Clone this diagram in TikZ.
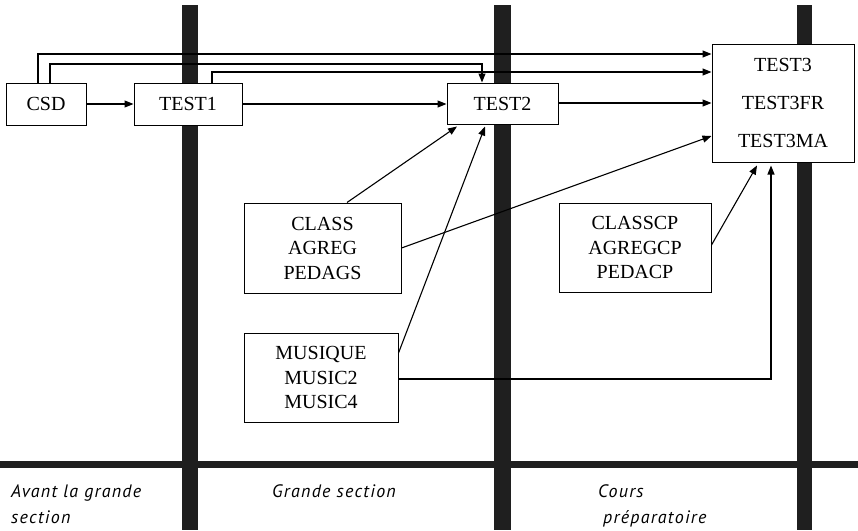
\documentclass[tikz,border=0pt]{standalone}
\usepackage{fontspec}
\setmainfont{Liberation Serif}
\newfontfamily\labfont[LetterSpace=7]{PT Sans}
\usetikzlibrary{arrows.meta}
\begin{document}
\begin{tikzpicture}[x=1pt,y=-1pt,
  box/.style={draw=black, line width=1pt, fill=white, inner sep=0pt, align=center,
    font=\fontsize{20}{24.5}\selectfont},
  arr/.style={line width=1.1pt, -{Triangle[length=9pt,width=7pt]}},
  ln/.style={line width=1.1pt},
  bar/.style={fill=black!88},
  lab/.style={anchor=west, inner sep=0pt, align=left,
    font=\labfont\itshape\fontsize{18}{26}\selectfont}]
\useasboundingbox (0,0) rectangle (858,530);
% bars
\fill[bar] (182,5) rectangle (198,530);
\fill[bar] (494,5) rectangle (511,530);
\fill[bar] (797,5) rectangle (812,530);
\fill[bar] (0,460.5) rectangle (858,467.5);
% nodes
\node[box, minimum width=80pt, minimum height=42pt] (csd) at (46,104) {CSD};
\node[box, minimum width=108pt, minimum height=42pt] (test1) at (188,104) {TEST1};
\node[box, minimum width=111pt, minimum height=41pt] (test2) at (502.5,103.5) {TEST2};
\node[box, minimum width=142pt, minimum height=118pt, font=\fontsize{20}{38}\selectfont] (test3) at (783,103) {TEST3\\TEST3FR\\TEST3MA};
\node[box, minimum width=157pt, minimum height=90pt] (class) at (322.5,248) {CLASS\\AGREG\\PEDAGS};
\node[box, minimum width=152pt, minimum height=89pt] (classcp) at (635,247.5) {CLASSCP\\AGREGCP\\PEDACP};
\node[box, minimum width=154pt, minimum height=89pt] (musique) at (321,377.5) {MUSIQUE\\MUSIC2\\MUSIC4};
\coordinate (j1) at (482,64);
% connectors
\draw[arr] (csd.east) -- (test1.west);
\draw[arr] (test1.east) -- (test1.east -| test2.west);
\draw[arr] ([yshift=0.5pt]test2.east) -- ([yshift=0.5pt]test2.east -| test3.west);
\draw[arr] ([xshift=-8pt]csd.north) |- ([yshift=49pt]test3.west);
\draw[arr] ([xshift=4pt]csd.north) |- (j1) -- (j1 |- test2.north);
\draw[arr] ([xshift=24pt]test1.north) |- ([yshift=31pt]test3.west);
\draw[arr] ([xshift=24.5pt]class.north) -- ([xshift=-45.5pt,yshift=-2pt]test2.south);
\draw[arr] ([yshift=24.5pt]musique.east) -- ([xshift=-17.5pt,yshift=-2pt]test2.south);
\draw[arr] (class.east) -- ([yshift=-33pt]test3.west);
\draw[arr] ([yshift=2.5pt]classcp.east) -- ([xshift=-26pt,yshift=-3pt]test3.south);
\draw[arr] ([yshift=-1.5pt]musique.east) -| ([xshift=-12pt,yshift=-3pt]test3.south);
% labels
\node[lab] (l1) at (11,504) {Avant la grande\\section};
\node[lab] (l2) at (272,491) {Grande section};
\node[lab] (l3) at (598,506) {Cours\\\hspace{5pt}préparatoire};
\end{tikzpicture}
\end{document}
